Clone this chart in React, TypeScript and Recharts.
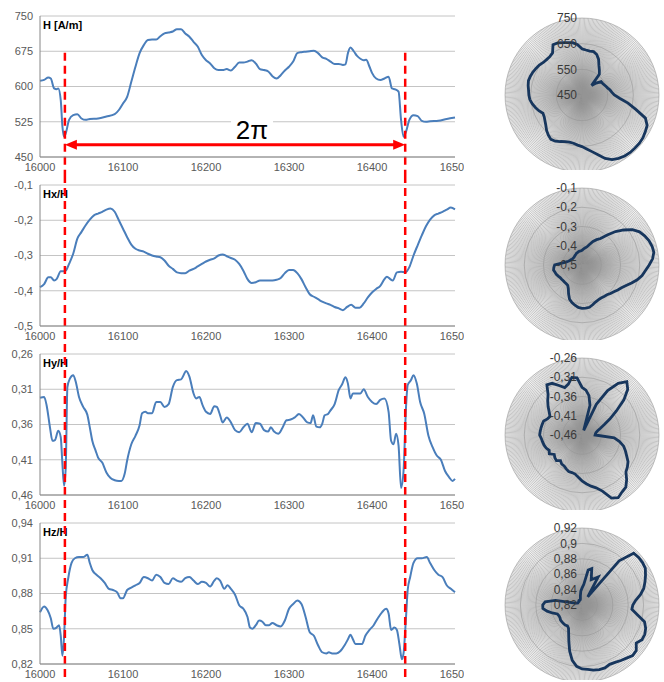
import React from "react";
import {
  LineChart,
  Line,
  XAxis,
  YAxis,
  CartesianGrid,
  ReferenceLine,
  RadarChart,
  Radar,
  PolarGrid,
  PolarAngleAxis,
  PolarRadiusAxis,
} from "recharts";

const FONT = "'Liberation Sans', Arial, sans-serif";
const BLUE = "#4a7ebb";
const NAVY = "#17365d";
const RED = "#ff0000";

// ---- line charts (time axis) ----
const xTicks = [16000, 16100, 16200, 16300, 16400, 16500];
const periodStart = 16030;
const periodEnd = 16440;

const hX = [16000,16005,16010,16013,16017,16020,16022,16025,16027,16029,16031,16035,16040,16045,16050,16055,16060,16070,16080,16090,16095,16100,16105,16110,16115,16120,16125,16130,16135,16140,16145,16150,16155,16160,16165,16170,16175,16180,16185,16190,16195,16200,16205,16210,16215,16220,16225,16230,16235,16240,16245,16250,16255,16260,16265,16270,16275,16280,16285,16290,16295,16300,16305,16310,16315,16320,16325,16330,16335,16340,16345,16350,16355,16360,16365,16368,16371,16374,16378,16382,16386,16390,16393,16397,16400,16405,16410,16415,16420,16424,16428,16432,16435,16438,16441,16445,16450,16455,16460,16465,16470,16480,16490,16500];
const hY = [612,614,619,617,596,594,596,571,515,493,500,529,539,541,532,529,531,532,536,541,550,564,578,610,642,671,688,699,700,700,707,713,715,717,722,722,713,706,695,685,667,656,649,639,635,635,637,634,642,651,651,653,656,649,637,635,632,622,617,624,634,642,653,671,673,674,675,676,671,662,659,653,648,648,646,647,671,683,675,665,659,656,657,642,629,617,614,617,621,596,594,589,529,493,504,529,539,537,527,525,526,527,531,534];

const hxX = [16000,16005,16010,16013,16017,16020,16025,16028,16031,16035,16040,16045,16050,16055,16060,16065,16070,16075,16080,16085,16090,16095,16100,16105,16110,16115,16120,16125,16130,16135,16140,16145,16150,16155,16160,16165,16170,16175,16180,16185,16190,16195,16200,16205,16210,16215,16220,16225,16230,16235,16240,16245,16250,16255,16260,16265,16270,16275,16280,16285,16290,16295,16300,16305,16310,16315,16320,16325,16330,16335,16340,16345,16350,16355,16360,16365,16370,16375,16380,16385,16390,16395,16400,16405,16410,16415,16418,16422,16425,16430,16435,16440,16445,16450,16455,16460,16465,16470,16475,16480,16485,16490,16495,16500];
const hxY = [-0.390,-0.381,-0.362,-0.362,-0.371,-0.367,-0.345,-0.345,-0.343,-0.324,-0.295,-0.252,-0.233,-0.214,-0.198,-0.186,-0.181,-0.176,-0.170,-0.167,-0.176,-0.200,-0.224,-0.248,-0.269,-0.281,-0.286,-0.289,-0.295,-0.300,-0.303,-0.305,-0.314,-0.329,-0.338,-0.348,-0.350,-0.350,-0.343,-0.338,-0.331,-0.324,-0.317,-0.312,-0.308,-0.300,-0.297,-0.302,-0.307,-0.312,-0.324,-0.343,-0.367,-0.378,-0.376,-0.371,-0.371,-0.371,-0.371,-0.369,-0.364,-0.350,-0.341,-0.341,-0.350,-0.367,-0.390,-0.410,-0.417,-0.424,-0.431,-0.436,-0.440,-0.446,-0.450,-0.455,-0.446,-0.440,-0.448,-0.448,-0.436,-0.419,-0.405,-0.395,-0.386,-0.367,-0.360,-0.367,-0.371,-0.348,-0.346,-0.348,-0.333,-0.300,-0.271,-0.243,-0.217,-0.198,-0.186,-0.181,-0.176,-0.170,-0.164,-0.169];

const hyX = [16000,16005,16008,16012,16015,16018,16022,16025,16027,16029,16031,16033,16036,16040,16043,16047,16052,16057,16060,16063,16067,16070,16075,16080,16085,16090,16095,16098,16102,16105,16110,16115,16120,16123,16127,16130,16135,16140,16145,16150,16155,16160,16165,16170,16173,16176,16180,16185,16188,16192,16196,16200,16205,16210,16213,16217,16220,16225,16230,16235,16240,16245,16250,16255,16260,16265,16270,16275,16278,16282,16287,16292,16297,16302,16307,16312,16317,16322,16326,16329,16333,16337,16340,16343,16347,16350,16355,16360,16364,16368,16371,16374,16377,16382,16386,16390,16395,16400,16405,16410,16415,16420,16423,16426,16429,16432,16435,16438,16441,16443,16447,16450,16454,16458,16463,16468,16473,16478,16483,16488,16493,16497,16500];
const hyY = [0.322,0.321,0.333,0.364,0.383,0.382,0.369,0.378,0.416,0.447,0.421,0.307,0.295,0.290,0.299,0.321,0.335,0.346,0.364,0.383,0.397,0.407,0.414,0.428,0.436,0.439,0.440,0.440,0.430,0.411,0.388,0.376,0.361,0.344,0.342,0.344,0.344,0.328,0.328,0.335,0.331,0.307,0.297,0.296,0.290,0.284,0.292,0.316,0.323,0.321,0.333,0.342,0.345,0.334,0.335,0.347,0.357,0.350,0.357,0.368,0.371,0.364,0.359,0.371,0.358,0.359,0.368,0.370,0.364,0.370,0.373,0.365,0.354,0.353,0.350,0.345,0.350,0.357,0.358,0.347,0.363,0.364,0.359,0.347,0.345,0.340,0.331,0.311,0.303,0.293,0.302,0.323,0.316,0.316,0.316,0.310,0.321,0.328,0.331,0.325,0.323,0.342,0.383,0.388,0.373,0.390,0.450,0.426,0.335,0.304,0.297,0.290,0.302,0.328,0.345,0.376,0.392,0.404,0.410,0.426,0.435,0.440,0.437];

const hzX = [16000,16005,16009,16013,16016,16020,16023,16025,16027,16029,16031,16034,16038,16042,16047,16052,16057,16060,16063,16068,16073,16078,16083,16088,16093,16097,16100,16105,16110,16115,16120,16125,16130,16135,16140,16145,16150,16155,16160,16165,16170,16175,16180,16185,16190,16195,16200,16205,16210,16213,16217,16222,16226,16230,16235,16240,16245,16250,16253,16256,16260,16264,16268,16272,16276,16280,16285,16290,16295,16300,16305,16310,16315,16320,16325,16330,16335,16340,16345,16348,16352,16357,16362,16367,16371,16374,16377,16380,16384,16388,16392,16397,16402,16407,16412,16417,16420,16423,16427,16430,16433,16436,16438,16441,16443,16446,16450,16455,16460,16466,16470,16475,16480,16485,16490,16495,16500];
const hzY = [0.864,0.869,0.866,0.859,0.850,0.851,0.853,0.844,0.827,0.843,0.877,0.893,0.906,0.910,0.911,0.911,0.913,0.906,0.900,0.896,0.893,0.889,0.884,0.883,0.881,0.876,0.876,0.883,0.885,0.887,0.889,0.894,0.893,0.891,0.896,0.894,0.889,0.888,0.893,0.891,0.890,0.893,0.894,0.891,0.888,0.890,0.889,0.886,0.891,0.893,0.891,0.884,0.887,0.884,0.879,0.870,0.867,0.860,0.851,0.850,0.853,0.857,0.856,0.853,0.853,0.855,0.853,0.852,0.857,0.867,0.871,0.874,0.871,0.860,0.847,0.844,0.836,0.830,0.829,0.830,0.829,0.829,0.831,0.836,0.841,0.845,0.841,0.837,0.837,0.837,0.844,0.849,0.853,0.859,0.864,0.867,0.863,0.849,0.851,0.849,0.837,0.824,0.829,0.860,0.883,0.894,0.906,0.910,0.910,0.911,0.906,0.900,0.896,0.894,0.887,0.884,0.881];

// ---- polar charts (one period, 5 degree steps) ----
const polarDeg = [0,5,10,15,20,25,30,35,40,45,50,55,60,65,70,75,80,85,90,95,100,105,110,115,120,125,130,135,140,145,150,155,160,165,170,175,180,185,190,195,200,205,210,215,220,225,230,235,240,245,250,255,260,265,270,275,280,285,290,295,300,305,310,315,320,325,330,335,340,345,350,355];

const polarH = [630,626,624,625,618,603,582,568,555,503,522,541,542,545,549,554,561,567,576,597,632,667,713,730,735,740,742,742,742,740,735,728,713,691,674,661,651,646,641,640,643,650,658,661,654,645,634,626,620,618,629,638,647,654,657,659,663,666,664,661,657,653,647,645,645,650,676,674,667,661,657,647];
const polarHx = [-0.424,-0.417,-0.410,-0.403,-0.387,-0.365,-0.348,-0.332,-0.296,-0.254,-0.217,-0.180,-0.155,-0.141,-0.130,-0.123,-0.121,-0.132,-0.151,-0.169,-0.183,-0.203,-0.226,-0.247,-0.263,-0.273,-0.284,-0.291,-0.298,-0.300,-0.302,-0.300,-0.295,-0.286,-0.277,-0.275,-0.275,-0.279,-0.288,-0.298,-0.311,-0.335,-0.358,-0.371,-0.373,-0.373,-0.373,-0.371,-0.369,-0.364,-0.358,-0.355,-0.350,-0.353,-0.358,-0.394,-0.415,-0.426,-0.433,-0.436,-0.440,-0.442,-0.442,-0.442,-0.440,-0.438,-0.436,-0.433,-0.431,-0.429,-0.427,-0.426];
const polarHy = [-0.336,-0.343,-0.356,-0.380,-0.447,-0.372,-0.327,-0.296,-0.279,-0.292,-0.318,-0.351,-0.376,-0.396,-0.409,-0.418,-0.423,-0.425,-0.426,-0.376,-0.361,-0.348,-0.340,-0.332,-0.322,-0.316,-0.311,-0.296,-0.283,-0.279,-0.272,-0.279,-0.305,-0.318,-0.325,-0.333,-0.341,-0.350,-0.357,-0.359,-0.359,-0.363,-0.367,-0.368,-0.373,-0.366,-0.368,-0.372,-0.362,-0.366,-0.361,-0.358,-0.356,-0.354,-0.350,-0.351,-0.352,-0.353,-0.354,-0.361,-0.364,-0.356,-0.345,-0.334,-0.323,-0.301,-0.305,-0.318,-0.329,-0.323,-0.308,-0.311];
const polarHz = [0.842,0.847,0.866,0.869,0.855,0.858,0.862,0.833,0.895,0.915,0.916,0.916,0.915,0.911,0.907,0.903,0.897,0.890,0.886,0.885,0.893,0.904,0.908,0.910,0.910,0.906,0.912,0.913,0.910,0.908,0.906,0.905,0.907,0.907,0.906,0.904,0.903,0.900,0.893,0.882,0.870,0.861,0.855,0.853,0.854,0.854,0.854,0.854,0.853,0.853,0.854,0.860,0.866,0.871,0.871,0.868,0.855,0.829,0.827,0.826,0.826,0.826,0.826,0.826,0.826,0.827,0.827,0.827,0.827,0.828,0.832,0.838];

const hTicks = [450, 525, 600, 675, 750];
const hxTicks = [-0.5, -0.4, -0.3, -0.2, -0.1];
const hyTicks = [0.26, 0.31, 0.36, 0.41, 0.46];
const hzTicks = [0.82, 0.85, 0.88, 0.91, 0.94];

// polar radial scales: centre value, outer value, rings, and an integer unit for the axis
const rH = { base: 450, top: 750, count: 4, unit: 1 };
const rHx = { base: -0.5, top: -0.1, count: 5, unit: 1000 };
const rHy = { base: -0.46, top: -0.26, count: 5, unit: 1000 };
const rHz = { base: 0.82, top: 0.92, count: 6, unit: 1000 };

const zip = (xs: number[], ys: number[]) =>
  xs.slice(0, Math.min(xs.length, ys.length)).map((t, i) => ({ t, v: ys[i] }));
const polarRows = (vals: number[]) =>
  polarDeg.slice(0, vals.length).map((deg, i) => ({ deg, v: vals[i] }));

const comma = (v: number) => String(Number(v.toFixed(4))).replace(".", ",");

const ROW = 169;
const MARGIN_TOP = 10;
const AXIS_H = 18;

// red dashed period markers, stretched across the gaps between panels
const dashed = (fromSvgTop: boolean) => (p: any) => {
  const top = Math.min(p.y1, p.y2);
  const bottom = Math.max(p.y1, p.y2);
  return (
    <line
      x1={p.x1}
      x2={p.x1}
      y1={fromSvgTop ? top - MARGIN_TOP : top}
      y2={bottom + AXIS_H}
      stroke={RED}
      strokeWidth={2.5}
      strokeDasharray="8 5"
    />
  );
};

const periodArrow = (p: any) => {
  const y = p.y1;
  const a = Math.min(p.x1, p.x2);
  const b = Math.max(p.x1, p.x2);
  const mid = (a + b) / 2 + 17;
  return (
    <g>
      <rect x={mid - 21} y={y - 27} width={42} height={24} fill="#fff" />
      <line x1={a + 8} x2={b - 8} y1={y} y2={y} stroke={RED} strokeWidth={3} />
      <polygon points={`${a},${y} ${a + 12},${y - 5} ${a + 12},${y + 5}`} fill={RED} />
      <polygon points={`${b},${y} ${b - 12},${y - 5} ${b - 12},${y + 5}`} fill={RED} />
      <text x={mid} y={y - 6} textAnchor="middle" fontSize={26} fontFamily={FONT} fill="#000">
        2π
      </text>
    </g>
  );
};

interface PanelProps {
  index: number;
  title: string;
  data: { t: number; v: number }[];
  domain: [number, number];
  ticks: number[];
  reversed?: boolean;
  first?: boolean;
}

function LinePanel({ index, title, data, domain, ticks, reversed, first }: PanelProps) {
  const top = ROW * index + 6;
  const tickStyle = { fontSize: 11, fill: "#595959", fontFamily: FONT };
  return (
    <>
      <div
        style={{
          position: "absolute",
          left: 43,
          top: top + 14,
          fontSize: 11,
          lineHeight: "11px",
          fontWeight: "bold",
          fontFamily: FONT,
          color: "#000",
        }}
      >
        {title}
      </div>
      <div style={{ position: "absolute", left: 0, top }}>
        <LineChart
          width={464}
          height={ROW}
          data={data}
          margin={{ top: MARGIN_TOP, right: 9, left: 0, bottom: 0 }}
        >
          <CartesianGrid vertical={false} stroke="#c4c4c4" />
          <XAxis
            dataKey="t"
            type="number"
            domain={[16000, 16500]}
            ticks={xTicks}
            height={AXIS_H}
            tickSize={4}
            tickMargin={2}
            tickLine={false}
            stroke="#868686"
            tick={tickStyle}
            interval={0}
          />
          <YAxis
            type="number"
            domain={domain}
            ticks={ticks}
            reversed={reversed}
            width={40}
            tickSize={5}
            tickMargin={2}
            tickLine={false}
            stroke="#868686"
            tick={tickStyle}
            tickFormatter={comma}
            interval={0}
            allowDataOverflow
          />
          <Line
            dataKey="v"
            type="monotone"
            stroke={BLUE}
            strokeWidth={2}
            dot={false}
            isAnimationActive={false}
          />
          {first ? (
            <>
              <ReferenceLine
                segment={[{ x: periodStart, y: 672 }, { x: periodStart, y: 450 }]}
                shape={dashed(false)}
              />
              <ReferenceLine
                segment={[{ x: periodEnd, y: 672 }, { x: periodEnd, y: 450 }]}
                shape={dashed(false)}
              />
              <ReferenceLine
                segment={[{ x: periodStart, y: 476 }, { x: periodEnd, y: 476 }]}
                shape={periodArrow}
              />
            </>
          ) : (
            <>
              <ReferenceLine x={periodStart} shape={dashed(true)} />
              <ReferenceLine x={periodEnd} shape={dashed(true)} />
            </>
          )}
        </LineChart>
      </div>
    </>
  );
}

const spokes = Array.from({ length: 360 }, (_, i) => i);

interface PolarProps {
  index: number;
  data: { deg: number; v: number }[];
  scale: { base: number; top: number; count: number; unit: number };
}

function PolarPanel({ index, data, scale }: PolarProps) {
  const { base, top, count, unit } = scale;
  const span = Math.round((top - base) * unit);
  const tick = (p: any) => (
    <text
      x={p.x - 5}
      y={p.y}
      dy="0.35em"
      textAnchor="end"
      fontSize={12}
      fontFamily={FONT}
      fill="#3a3a3a"
    >
      {comma(base + p.payload.value / unit)}
    </text>
  );
  return (
    <div style={{ position: "absolute", left: 495, top: 170 * index }}>
      <RadarChart
        width={169}
        height={170}
        cx={87}
        cy={95}
        outerRadius={77}
        data={data}
        margin={{ top: 0, right: 0, bottom: 0, left: 0 }}
      >
        <PolarGrid gridType="circle" polarAngles={spokes} stroke="#959595" strokeWidth={0.55} />
        <PolarAngleAxis dataKey="deg" tick={false} tickLine={false} axisLine={false} />
        <PolarRadiusAxis
          angle={90}
          type="number"
          domain={[0, span]}
          tickCount={count}
          allowDecimals={false}
          tick={tick}
          tickLine={false}
          axisLine={false}
          orientation="left"
          allowDataOverflow
        />
        <Radar
          dataKey={(d: { v: number }) => (d.v - base) * unit}
          stroke={NAVY}
          strokeWidth={2.8}
          fill="none"
          fillOpacity={0}
          dot={false}
          isAnimationActive={false}
        />
      </RadarChart>
    </div>
  );
}

export default function App() {
  return (
    <div
      style={{
        position: "absolute",
        left: 0,
        top: 0,
        width: 664,
        height: 682,
        background: "#fff",
        overflow: "hidden",
      }}
    >
      <LinePanel index={0} title="H [A/m]" data={zip(hX, hY)} domain={[450, 750]} ticks={hTicks} first />
      <LinePanel index={1} title="Hx/H" data={zip(hxX, hxY)} domain={[-0.5, -0.1]} ticks={hxTicks} />
      <LinePanel index={2} title="Hy/H" data={zip(hyX, hyY)} domain={[0.26, 0.46]} ticks={hyTicks} reversed />
      <LinePanel index={3} title="Hz/H" data={zip(hzX, hzY)} domain={[0.82, 0.94]} ticks={hzTicks} />
      <PolarPanel index={0} data={polarRows(polarH)} scale={rH} />
      <PolarPanel index={1} data={polarRows(polarHx)} scale={rHx} />
      <PolarPanel index={2} data={polarRows(polarHy)} scale={rHy} />
      <PolarPanel index={3} data={polarRows(polarHz)} scale={rHz} />
    </div>
  );
}
